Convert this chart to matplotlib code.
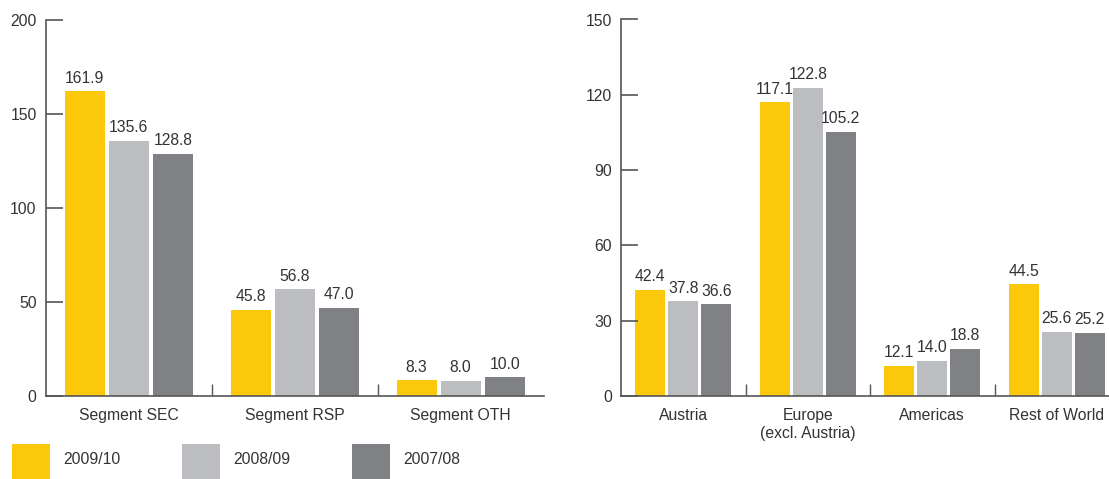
import matplotlib.pyplot as plt
from matplotlib.patches import Rectangle
import numpy as np

# -----------------------------
# Data
# -----------------------------
years = ["2009/10", "2008/09", "2007/08"]
colors = ["#fcc80c", "#bcbdc0", "#808185"]

segments = ["Segment SEC", "Segment RSP", "Segment OTH"]
seg_values = [
    [161.9, 45.8, 8.3],    # 2009/10
    [135.6, 56.8, 8.0],    # 2008/09
    [128.8, 47.0, 10.0],   # 2007/08
]

regions = ["Austria", "Europe\n(excl. Austria)", "Americas", "Rest of World"]
reg_values = [
    [42.4, 117.1, 12.1, 44.5],
    [37.8, 122.8, 14.0, 25.6],
    [36.6, 105.2, 18.8, 25.2],
]

plt.rcParams['font.family'] = ['Liberation Sans', 'DejaVu Sans']
text_col = "#333333"
axis_col = "#555555"
fs = 11.3

W, H = 1109, 479
fig = plt.figure(figsize=(W / 100, H / 100), dpi=100)
ax1 = fig.add_axes([45.7 / W, 1 - 396 / H, 498 / W, 376.5 / H])
ax2 = fig.add_axes([621 / W, 1 - 396 / H, 488 / W, 376.5 / H])


def draw(ax, cats, values, ymax, yticks, xmax):
    n = len(cats)
    x = np.arange(n) + 0.5
    bar_w, step = 0.241, 0.265
    for k, vals in enumerate(values):
        pos = x + (k - 1) * step
        bars = ax.bar(pos, vals, width=bar_w, color=colors[k], linewidth=0)
        for b, v in zip(bars, vals):
            ax.annotate(f"{v:.1f}", (b.get_x() + b.get_width() / 2, v),
                        xytext=(0, 4), textcoords="offset points",
                        ha="center", va="bottom", fontsize=fs, color=text_col)
    ax.set_xlim(0, xmax)
    ax.set_ylim(0, ymax)
    ax.set_yticks(yticks)
    ax.set_xticks(x)
    ax.set_xticklabels(cats, linespacing=1.25)
    ax.set_xticks([i for i in range(1, n + 1) if i < xmax], minor=True)
    ax.tick_params(axis="x", which="major", length=0, pad=8.5,
                   labelsize=fs, labelcolor=text_col)
    ax.tick_params(axis="x", which="minor", direction="in", length=9,
                   width=1, color=axis_col)
    ax.tick_params(axis="y", direction="in", length=12, width=1.2,
                   color=axis_col, pad=6.5, labelsize=fs, labelcolor=text_col)
    for s in ["top", "right"]:
        ax.spines[s].set_visible(False)
    for s in ["left", "bottom"]:
        ax.spines[s].set_color(axis_col)
        ax.spines[s].set_linewidth(1.2)


draw(ax1, segments, seg_values, 200, [0, 50, 100, 150, 200], 3)
draw(ax2, regions, reg_values, 150, [0, 30, 60, 90, 120, 150], 488 / 124.5)

# -----------------------------
# Legend (squares + text)
# -----------------------------
for k, yr in enumerate(years):
    x0 = 12 + k * 170
    fig.patches.append(Rectangle((x0 / W, 0), 38 / W, 35 / H,
                                 transform=fig.transFigure,
                                 facecolor=colors[k], linewidth=0))
    fig.text((x0 + 51) / W, 1 - 460 / H, yr, fontsize=fs,
             color=text_col, va="center", ha="left")

fig.savefig("out.png", dpi=100)
